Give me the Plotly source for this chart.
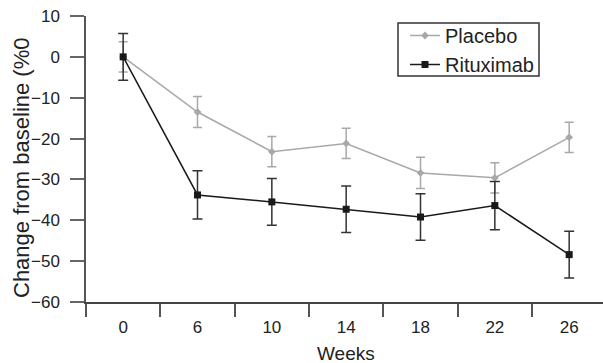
import plotly.graph_objects as go

weeks = ["0", "6", "10", "14", "18", "22", "26"]
placebo = [0, -13.5, -23.2, -21.2, -28.4, -29.6, -19.7]
placebo_err = [3.7, 3.8, 3.7, 3.7, 3.8, 3.7, 3.7]
rituximab = [0, -33.8, -35.5, -37.3, -39.2, -36.4, -48.4]
rituximab_err = [5.7, 5.9, 5.7, 5.7, 5.7, 5.9, 5.7]
y_ticks = [10, 0, -10, -20, -30, -40, -50, -60]

FONT = "Liberation Sans, Arial, Helvetica, sans-serif"
GREY = "#a8a8a8"
BLACK = "#1a1a1a"

L, T, B, W = 86, 16, 302, 517
H = B - T


def px_x(p):
    return (p - L) / W


def px_y(p):
    return (B - p) / H


fig = go.Figure()
fig.add_trace(go.Scatter(
    x=weeks, y=placebo, name="Placebo", mode="lines+markers",
    line=dict(color=GREY, width=1.5),
    marker=dict(symbol="diamond", size=6, color=GREY),
    error_y=dict(type="data", array=placebo_err, color=GREY, thickness=1.5, width=4.5),
))
fig.add_trace(go.Scatter(
    x=weeks, y=rituximab, name="Rituximab", mode="lines+markers",
    line=dict(color=BLACK, width=1.5),
    marker=dict(symbol="square", size=7, color=BLACK),
    error_y=dict(type="data", array=rituximab_err, color="#333333", thickness=1.5, width=5),
))

fig.update_layout(
    width=603, height=363,
    margin=dict(l=L, r=0, t=T, b=363 - B),
    paper_bgcolor="white", plot_bgcolor="white",
    font=dict(family=FONT, color="#222222", size=16),
    showlegend=True,
    legend=dict(
        x=px_x(405), y=px_y(16), xanchor="left", yanchor="top",
        borderwidth=0, bgcolor="rgba(0,0,0,0)",
        font=dict(size=20, family=FONT, color="#222222"),
        tracegroupgap=0,
    ),
    xaxis=dict(
        type="category", categoryorder="array", categoryarray=weeks,
        range=[-0.5, 6.455], tickson="boundaries",
        showline=True, linecolor="#444444", linewidth=1.5,
        ticks="outside", ticklen=13, tickwidth=1.5, tickcolor="#555555",
        tickfont=dict(size=17), ticklabelstandoff=9,
        showgrid=False, zeroline=False,
    ),
    yaxis=dict(
        range=[-60, 10], tickvals=y_ticks,
        showline=True, linecolor="#555555", linewidth=1.5,
        ticks="outside", ticklen=14, tickwidth=1.5, tickcolor="#666666",
        tickfont=dict(size=17), ticklabelstandoff=7,
        showgrid=False, zeroline=False,
    ),
    shapes=[
        dict(type="rect", xref="paper", yref="paper",
             x0=px_x(398), x1=px_x(539), y0=px_y(76), y1=px_y(23),
             line=dict(color="#333333", width=1.5), fillcolor="rgba(0,0,0,0)",
             layer="above"),
    ],
    annotations=[
        dict(text="Change from baseline (%0", textangle=-90, x=px_x(21), y=px_y(168),
             xref="paper", yref="paper", showarrow=False, xanchor="center", yanchor="middle",
             font=dict(size=22, family=FONT, color="#222222")),
        dict(text="Weeks", x=px_x(345.5), y=px_y(353), xref="paper", yref="paper",
             showarrow=False, xanchor="center", yanchor="middle",
             font=dict(size=19, family=FONT, color="#222222")),
    ],
)

fig.write_html("out.html")
